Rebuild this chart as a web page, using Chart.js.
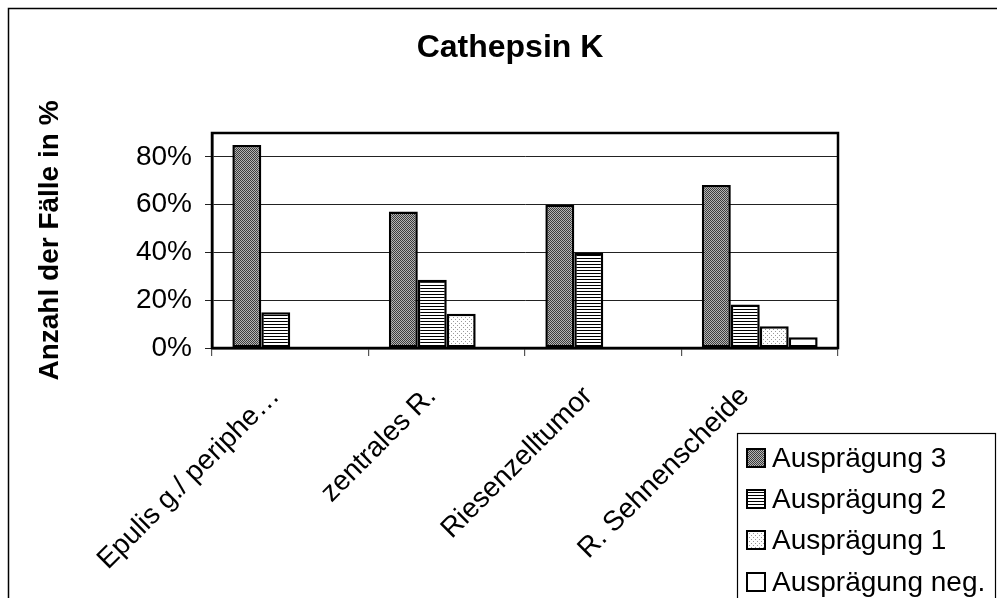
<!DOCTYPE html>
<html>
<head>
<meta charset="utf-8">
<script src="https://cdn.jsdelivr.net/npm/chart.js@4.4.1/dist/chart.umd.min.js"></script>
<style>
  html, body { margin: 0; padding: 0; background: #fff; }
  #wrap { width: 997px; height: 598px; position: relative; }
</style>
</head>
<body>
<div id="wrap"><canvas id="c" width="997" height="598"></canvas></div>
<script>
const chartTitle = "Cathepsin K";
const yAxisTitle = "Anzahl der Fälle in %";
const categories = ["Epulis g./ periphe…", "zentrales R.", "Riesenzelltumor", "R. Sehnenscheide"];
const seriesNames = ["Ausprägung 3", "Ausprägung 2", "Ausprägung 1", "Ausprägung neg."];
const auspraegung3 = [85, 57.1, 60, 68.2];
const auspraegung2 = [15, 28.6, 40, 18.2];
const auspraegung1 = [0, 14.3, 0, 9.1];
const auspraegungNeg = [0, 0, 0, 4.5];
const yTickValues = [0, 20, 40, 60, 80];
const yMax = 90;

function makePattern(kind) {
  const c = document.createElement('canvas');
  const ctx = c.getContext('2d');
  if (kind === 'dark') {
    c.width = 2; c.height = 2;
    ctx.fillStyle = '#b4b4b4'; ctx.fillRect(0, 0, 2, 2);
    ctx.fillStyle = '#3c3c3c'; ctx.fillRect(0, 0, 1, 1); ctx.fillRect(1, 1, 1, 1);
  } else if (kind === 'hlines') {
    c.width = 3; c.height = 3;
    ctx.fillStyle = '#ffffff'; ctx.fillRect(0, 0, 3, 3);
    ctx.fillStyle = '#000000'; ctx.fillRect(0, 0, 3, 1);
  } else if (kind === 'dots') {
    c.width = 4; c.height = 4;
    ctx.fillStyle = '#ffffff'; ctx.fillRect(0, 0, 4, 4);
    ctx.fillStyle = '#9a9a9a'; ctx.fillRect(1, 1, 1, 1); ctx.fillRect(3, 3, 1, 1);
  } else {
    c.width = 2; c.height = 2;
    ctx.fillStyle = '#ffffff'; ctx.fillRect(0, 0, 2, 2);
  }
  return document.getElementById('c').getContext('2d').createPattern(c, 'repeat');
}

const fills = [makePattern('dark'), makePattern('hlines'), makePattern('dots'), makePattern('white')];
const seriesData = [auspraegung3, auspraegung2, auspraegung1, auspraegungNeg];

const FONT = "'Liberation Sans', Arial, sans-serif";

const decorPlugin = {
  id: 'decor',
  beforeDraw(chart) {
    const ctx = chart.ctx;
    ctx.save();
    ctx.fillStyle = '#fff';
    ctx.fillRect(0, 0, chart.width, chart.height);
    ctx.restore();
  },
  afterDraw(chart) {
    const ctx = chart.ctx;
    const a = chart.chartArea;
    ctx.save();
    // outer border
    ctx.strokeStyle = '#000';
    ctx.lineWidth = 1.5;
    ctx.strokeRect(8.5, 8.5, chart.width + 20, chart.height + 20);
    // plot area border
    ctx.lineWidth = 2.5;
    ctx.strokeRect(a.left, a.top, a.right - a.left, a.bottom - a.top);
    // title
    ctx.fillStyle = '#000';
    ctx.font = "bold 32px " + FONT;
    ctx.textAlign = 'center';
    ctx.textBaseline = 'middle';
    ctx.fillText(chartTitle, 510, 48);
    // legend
    const lx = 737, ly = 433, lw = 258, lh = 200;
    ctx.fillStyle = '#fff';
    ctx.fillRect(lx, ly, lw, lh);
    ctx.lineWidth = 1.2;
    ctx.strokeStyle = '#000';
    ctx.strokeRect(lx + 0.5, ly + 0.5, lw, lh);
    const rows = [458, 499, 540, 582];
    chart.data.datasets.forEach((ds, i) => {
      const cy = rows[i];
      ctx.fillStyle = ds.backgroundColor;
      ctx.fillRect(747, cy - 9, 18, 18);
      ctx.lineWidth = 2;
      ctx.strokeStyle = '#000';
      ctx.strokeRect(747, cy - 9, 18, 18);
      ctx.fillStyle = '#000';
      ctx.font = "28px " + FONT;
      ctx.textAlign = 'left';
      ctx.textBaseline = 'middle';
      ctx.fillText(ds.label, 772, cy + 1);
    });
    ctx.restore();
  }
};

new Chart(document.getElementById('c'), {
  type: 'bar',
  data: {
    labels: categories,
    datasets: seriesNames.map((name, i) => ({
      label: name,
      data: seriesData[i],
      backgroundColor: fills[i],
      borderColor: '#000',
      borderWidth: 2.5,
      borderSkipped: false,
      barPercentage: 1.0,
      categoryPercentage: 0.74
    }))
  },
  options: {
    responsive: false,
    animation: false,
    devicePixelRatio: 1,
    layout: { padding: { left: 0, top: 133, right: 159, bottom: 0 } },
    plugins: {
      legend: { display: false },
      title: { display: false },
      tooltip: { enabled: false }
    },
    scales: {
      x: {
        grid: { display: true, drawOnChartArea: false, offset: true, tickLength: 8, color: '#555', lineWidth: 1.2 },
        border: { display: true, color: '#000', width: 2.5 },
        ticks: {
          color: '#000',
          font: { family: FONT, size: 28 },
          maxRotation: 45,
          minRotation: 45,
          padding: 24,
          labelOffset: -15,
          autoSkip: false
        },
        afterFit(scale) { scale.height = 598 - 348; }
      },
      y: {
        min: 0,
        max: yMax,
        afterBuildTicks(scale) { scale.ticks = yTickValues.map(v => ({ value: v })); },
        grid: { color: '#222', lineWidth: 1, tickLength: 7, drawTicks: true },
        border: { display: true, color: '#000', width: 2.5 },
        ticks: {
          color: '#000',
          font: { family: FONT, size: 28 },
          padding: 13,
          callback: (v) => v + '%'
        },
        title: {
          display: true,
          text: yAxisTitle,
          color: '#000',
          font: { family: FONT, size: 28, weight: 'bold' },
          padding: { top: 33, bottom: 0 }
        },
        afterFit(scale) { scale.width = 212; }
      }
    }
  },
  plugins: [decorPlugin]
});
</script>
</body>
</html>
